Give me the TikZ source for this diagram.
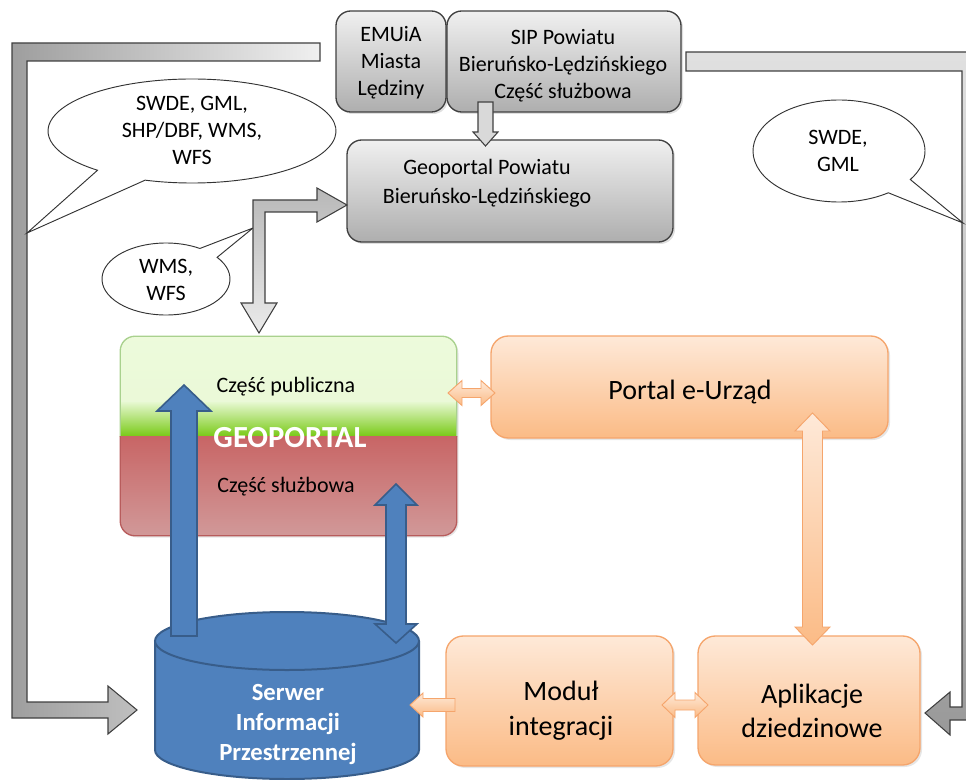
\documentclass[tikz,border=0pt]{standalone}
\usepackage{fontspec}
\setmainfont{Carlito}
\usepackage{tikz}
\usetikzlibrary{shadows}

\definecolor{boxgray}{HTML}{404040}
\definecolor{graytop}{HTML}{F0F0F0}
\definecolor{graybot}{HTML}{AEAEAE}
\definecolor{orgtop}{HTML}{FEE9D8}
\definecolor{orgbot}{HTML}{FBBB86}
\definecolor{orgline}{HTML}{F5A56C}
\definecolor{pubtop}{HTML}{EDFADC}
\definecolor{pubmid}{HTML}{E6F8D0}
\definecolor{pubbot}{HTML}{78C915}
\definecolor{publine}{HTML}{A9D18E}
\definecolor{slutop}{HTML}{C86565}
\definecolor{slubot}{HTML}{D29E9E}
\definecolor{sluline}{HTML}{B85C5C}
\definecolor{serfill}{HTML}{4F81BD}
\definecolor{serline}{HTML}{385D8A}

\tikzset{
  boxsize/.style 2 args={minimum width=#1*0.75pt, minimum height=#2*0.75pt, inner sep=0pt},
  graybox/.style={draw=boxgray, line width=1pt, rounded corners=11pt, top color=graytop, bottom color=graybot,
    drop shadow={opacity=0.25, shadow xshift=1.5pt, shadow yshift=-1.5pt}},
  orgbox/.style={draw=orgline, line width=1pt, rounded corners=13pt, top color=orgtop, bottom color=orgbot,
    drop shadow={opacity=0.2, shadow xshift=1.5pt, shadow yshift=-1.5pt}},
  txt/.style={font=\fontsize{16.5}{20.25}\selectfont, align=center, inner sep=0pt},
  bigtxt/.style={font=\fontsize{21}{26}\selectfont, align=center, inner sep=0pt},
  bubble/.style={draw=black!80, fill=white, line width=0.7pt},
  grayarrow/.style={draw=black!75, line width=0.8pt},
  bluearrow/.style={draw=serline, fill=serfill, line width=1.2pt},
  orgarrow/.style={draw=orgline, line width=0.7pt, top color=orgtop, bottom color=orgbot}
}

\begin{document}
\begin{tikzpicture}[x=0.75pt,y=-0.75pt]
\clip (0,0) rectangle (966,780);

% gray feeds left and right
\draw[grayarrow, left color=black!38, right color=black!6] (12,43) -- (320,43) -- (320,61) -- (27,61) -- (27,702) -- (108,702) -- (108,686) -- (137,710) -- (108,734) -- (108,718) -- (12,718) -- cycle;
\draw[grayarrow, top color=black!12, bottom color=black!40] (686,52) -- (985,52) -- (985,720) -- (950,720) -- (950,735) -- (925,713) -- (950,692) -- (950,707) -- (962,707) -- (962,71) -- (686,71) -- cycle;

% bubbles
\draw[bubble] ([shift={(192,131)}]109:144 and 52) arc[start angle=109, end angle=-229, x radius=144, y radius=52] -- (27,233) -- cycle;
\draw[bubble] ([shift={(166,279)}]-37:64 and 36) arc[start angle=-37, end angle=302, x radius=64, y radius=36] -- (253,228) -- cycle;
\draw[bubble] ([shift={(839,151)}]55:86 and 51) arc[start angle=55, end angle=394, x radius=86, y radius=51] -- (963,223) -- cycle;
\node[txt] (fmt1) at (192,130) {SWDE, GML,\\SHP/DBF, WMS,\\WFS};
\node[txt] (fmt2) at (166,280) {WMS,\\WFS};
\node[txt] (fmt3) at (838,151) {SWDE,\\GML};

% top gray boxes
\node[graybox, boxsize={110}{101}] (emuia) at (391,61.5) {};
\node[graybox, boxsize={234}{101}] (sip) at (564,61.5) {};
\node[graybox, boxsize={326}{102}] (geopow) at (510,191) {};
\node[txt] (emuiatxt) at (391,63) {EMUiA\\Miasta\\Lędziny};
\node[txt] (siptxt) at (563,66) {SIP Powiatu\\Bieruńsko-Lędzińskiego\\Część służbowa};
\node[txt, font=\fontsize{16.5}{21.5}\selectfont] (geopowtxt) at (487,183) {Geoportal Powiatu\\Bieruńsko-Lędzińskiego};
\draw[grayarrow, fill=black!15] (478,102) -- (493,102) -- (493,132) -- (498,132) -- (485.5,146) -- (473,132) -- (478,132) -- cycle;
\draw[grayarrow, top color=black!28, bottom color=black!8] (347,205) -- (317,188) -- (317,200) -- (253,200) -- (253,303) -- (241,303) -- (259,333) -- (277,303) -- (265,303) -- (265,212) -- (317,212) -- (317,222) -- cycle;

% geoportal (path picture coords are relative to the node centre)
\node[rounded corners=11pt, boxsize={336}{199}, drop shadow={opacity=0.2, shadow xshift=1.5pt, shadow yshift=-1.5pt}, fill=white, path picture={
  \shade[top color=pubtop, bottom color=pubmid] (-180,-110) rectangle (180,-34);
  \shade[top color=pubmid, bottom color=pubbot] (-180,-34) rectangle (180,0.5);
  \shade[top color=slutop, bottom color=slubot] (-180,0) rectangle (180,110);
}] (geo) at (288.5,436) {};
\begin{scope} \clip (100,300) rectangle (480,436); \draw[publine, line width=1pt, rounded corners=11pt] (geo.north west) rectangle (geo.south east); \end{scope}
\begin{scope} \clip (100,436) rectangle (480,560); \draw[sluline, line width=1pt, rounded corners=11pt] (geo.north west) rectangle (geo.south east); \end{scope}
\node[txt] (pub) at (286,387) {Część publiczna};
\node[txt] (slu) at (286,487) {Część służbowa};
\node[inner sep=0pt, text=white, font=\fontsize{23}{27}\selectfont\bfseries] (geotxt) at (290,438) {GEOPORTAL};

% orange boxes
\node[orgbox, boxsize={397}{102}] (portal) at (689.5,387) {};
\node[orgbox, boxsize={227}{130}] (modul) at (559.5,701) {};
\node[orgbox, boxsize={222}{129}] (apl) at (809,700.5) {};
\node[bigtxt] (portaltxt) at (690,392) {Portal e-Urząd};
\node[bigtxt] (modultxt) at (561,711) {Moduł\\integracji};
\node[bigtxt] (apltxt) at (812,711) {Aplikacje\\dziedzinowe};

% server
\fill[serfill] (155,641) -- (155,750) arc[start angle=180, end angle=0, x radius=132, y radius=29] -- (419,641) -- cycle;
\draw[serline, line width=1.5pt] (155,641) -- (155,750) arc[start angle=180, end angle=0, x radius=132, y radius=29] -- (419,641);
\draw[serline, fill=serfill, line width=1.5pt] (287,641) ellipse [x radius=132, y radius=29];
\node[inner sep=0pt, align=center, text=white, font=\fontsize{18.5}{22.5}\selectfont\bfseries] (serwer) at (288,724) {Serwer\\Informacji\\Przestrzennej};

% blue arrows
\draw[bluearrow] (171,636) -- (171,411) -- (157,411) -- (184,385) -- (211,411) -- (197,411) -- (197,636) -- cycle;
\draw[bluearrow] (386,505) -- (375,505) -- (396,484) -- (417,505) -- (406,505) -- (406,624) -- (417,624) -- (396,643) -- (375,624) -- (386,624) -- cycle;

% orange arrows
\draw[orgarrow] (448,393) -- (462,380.5) -- (462,388.5) -- (481,388.5) -- (481,380.5) -- (495,393) -- (481,405.5) -- (481,397.5) -- (462,397.5) -- (462,405.5) -- cycle;
\draw[orgarrow] (812.5,413) -- (830,431) -- (822.5,431) -- (822.5,627) -- (830,627) -- (812.5,645) -- (795,627) -- (802.5,627) -- (802.5,431) -- (795,431) -- cycle;
\draw[orgarrow] (662,705) -- (675,692.5) -- (675,700) -- (695,700) -- (695,692.5) -- (708,705) -- (695,717.5) -- (695,710) -- (675,710) -- (675,717.5) -- cycle;
\draw[orgarrow] (410,705) -- (423,693) -- (423,698.5) -- (455,698.5) -- (455,711.5) -- (423,711.5) -- (423,717) -- cycle;
\end{tikzpicture}
\end{document}
